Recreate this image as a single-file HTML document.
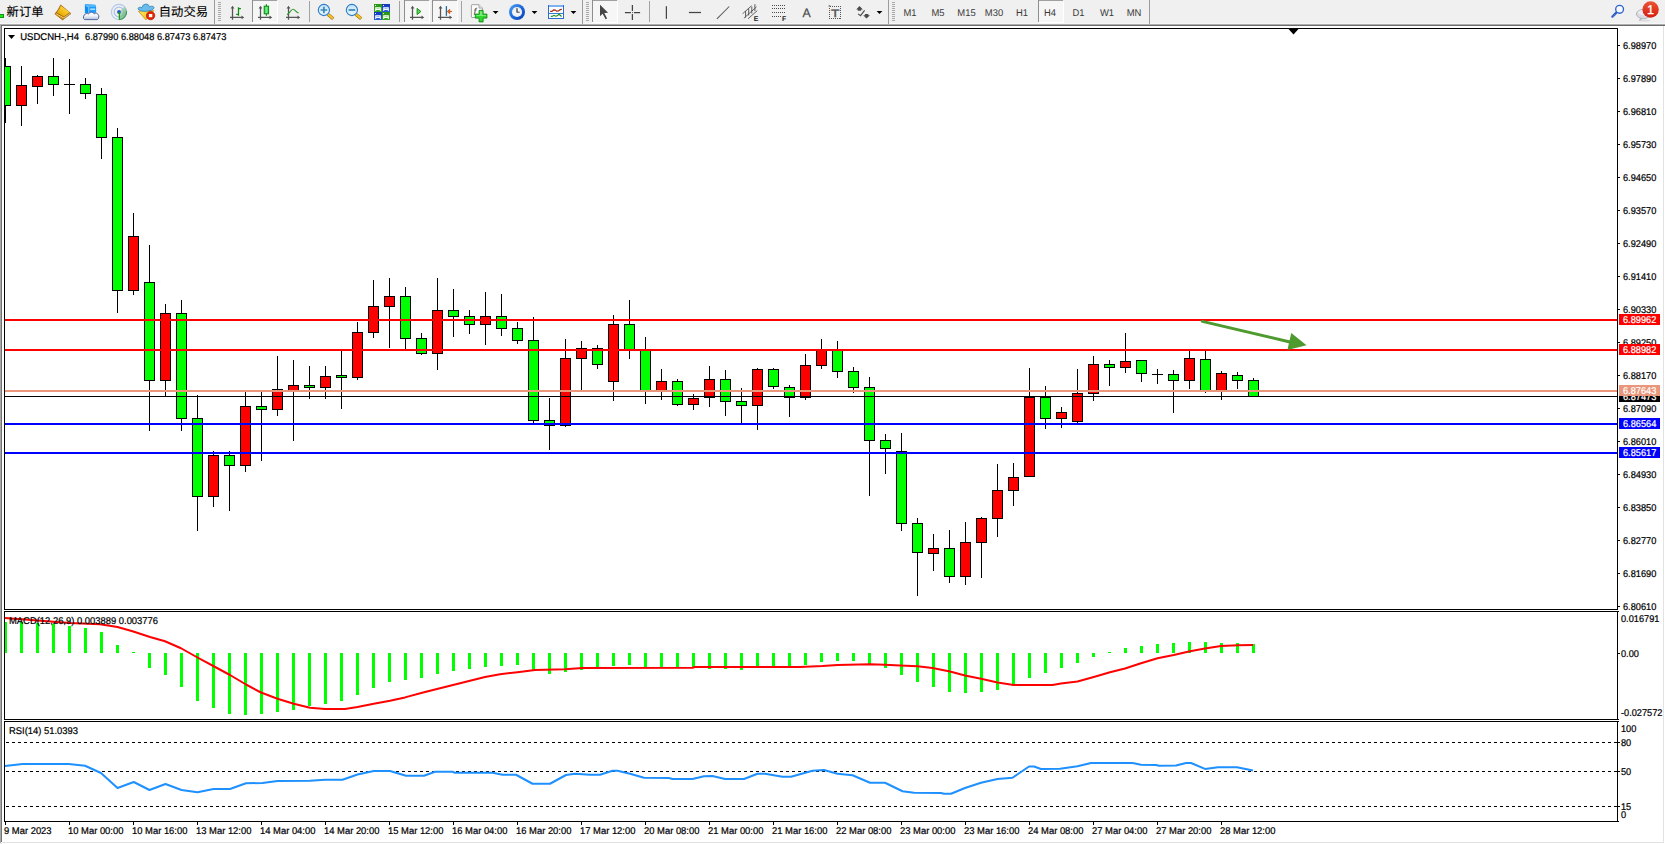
<!DOCTYPE html>
<html lang="zh-CN"><head><meta charset="utf-8"><title>USDCNH-,H4</title>
<style>
html,body{margin:0;padding:0;background:#fff;overflow:hidden}
body{width:1665px;height:844px;position:relative;font-family:"Liberation Sans", "Noto Sans CJK SC", sans-serif}
svg{position:absolute;left:0;top:0;display:block}
text{font-family:"Liberation Sans", "Noto Sans CJK SC", sans-serif;font-size:9.8px;fill:#000;stroke:#000;stroke-width:.22px;text-rendering:geometricPrecision}
.cn{font-size:12.3px;stroke-width:.12px}
.tf{fill:#3a3a3a;stroke:none}
.w{fill:#fff;stroke:#fff}
</style></head><body>
<svg width="1665" height="844" viewBox="0 0 1665 844">
<rect x="0" y="0" width="1665" height="844" fill="#fff"/>
<rect x="0" y="0" width="1665" height="24" fill="#f0f0f0"/>
<rect x="0" y="23" width="1665" height="1" fill="#f7f7f7"/>
<rect x="0" y="24" width="1665" height="1" fill="#adadad"/>
<rect x="0" y="25" width="1665" height="1" fill="#6c6c6c"/>
<rect x="0" y="25" width="1" height="818" fill="#a8a8a8"/>
<rect x="1" y="26" width="1" height="816" fill="#727272"/>
<rect x="1663" y="26" width="1" height="817" fill="#e2e2e2"/>
<rect x="2" y="842" width="1662" height="1" fill="#e2e2e2"/>
<rect x="0" y="843" width="2" height="1" fill="#e8e8e8"/>
<g shape-rendering="crispEdges">
<rect x="4" y="28" width="1614" height="1" fill="#000"/>
<rect x="4" y="28" width="1" height="582" fill="#000"/>
<rect x="1617" y="28" width="1" height="582" fill="#000"/>
<rect x="4" y="609" width="1614" height="1" fill="#000"/>
<rect x="4" y="611" width="1614" height="1" fill="#000"/>
<rect x="4" y="611" width="1" height="109" fill="#000"/>
<rect x="1617" y="611" width="1" height="109" fill="#000"/>
<rect x="4" y="719" width="1614" height="1" fill="#000"/>
<rect x="4" y="721" width="1614" height="1" fill="#000"/>
<rect x="4" y="721" width="1" height="101" fill="#000"/>
<rect x="1617" y="721" width="1" height="101" fill="#000"/>
<rect x="4" y="821" width="1614" height="1" fill="#000"/>
<clipPath id="cm"><rect x="5" y="29" width="1612" height="580"/></clipPath>
<clipPath id="ci"><rect x="5" y="612" width="1612" height="107"/></clipPath>
<g clip-path="url(#cm)">
<rect x="5" y="58" width="1" height="65" fill="#000"/>
<rect x="0" y="66" width="11" height="40" fill="#000"/>
<rect x="1" y="67" width="9" height="38" fill="#00ff00"/>
<rect x="21" y="66" width="1" height="60" fill="#000"/>
<rect x="16" y="85" width="11" height="21" fill="#000"/>
<rect x="17" y="86" width="9" height="19" fill="#ff0000"/>
<rect x="37" y="75" width="1" height="29" fill="#000"/>
<rect x="32" y="76" width="11" height="11" fill="#000"/>
<rect x="33" y="77" width="9" height="9" fill="#ff0000"/>
<rect x="53" y="58" width="1" height="38" fill="#000"/>
<rect x="48" y="76" width="11" height="9" fill="#000"/>
<rect x="49" y="77" width="9" height="7" fill="#00ff00"/>
<rect x="69" y="59" width="1" height="55" fill="#000"/>
<rect x="64" y="84" width="11" height="1" fill="#000"/>
<rect x="85" y="78" width="1" height="21" fill="#000"/>
<rect x="80" y="84" width="11" height="10" fill="#000"/>
<rect x="81" y="85" width="9" height="8" fill="#00ff00"/>
<rect x="101" y="88" width="1" height="71" fill="#000"/>
<rect x="96" y="94" width="11" height="44" fill="#000"/>
<rect x="97" y="95" width="9" height="42" fill="#00ff00"/>
<rect x="117" y="128" width="1" height="185" fill="#000"/>
<rect x="112" y="137" width="11" height="154" fill="#000"/>
<rect x="113" y="138" width="9" height="152" fill="#00ff00"/>
<rect x="133" y="213" width="1" height="82" fill="#000"/>
<rect x="128" y="236" width="11" height="55" fill="#000"/>
<rect x="129" y="237" width="9" height="53" fill="#ff0000"/>
<rect x="149" y="245" width="1" height="186" fill="#000"/>
<rect x="144" y="282" width="11" height="99" fill="#000"/>
<rect x="145" y="283" width="9" height="97" fill="#00ff00"/>
<rect x="165" y="304" width="1" height="92" fill="#000"/>
<rect x="160" y="313" width="11" height="68" fill="#000"/>
<rect x="161" y="314" width="9" height="66" fill="#ff0000"/>
<rect x="181" y="300" width="1" height="131" fill="#000"/>
<rect x="176" y="313" width="11" height="106" fill="#000"/>
<rect x="177" y="314" width="9" height="104" fill="#00ff00"/>
<rect x="197" y="395" width="1" height="136" fill="#000"/>
<rect x="192" y="418" width="11" height="79" fill="#000"/>
<rect x="193" y="419" width="9" height="77" fill="#00ff00"/>
<rect x="213" y="451" width="1" height="56" fill="#000"/>
<rect x="208" y="455" width="11" height="42" fill="#000"/>
<rect x="209" y="456" width="9" height="40" fill="#ff0000"/>
<rect x="229" y="451" width="1" height="60" fill="#000"/>
<rect x="224" y="455" width="11" height="11" fill="#000"/>
<rect x="225" y="456" width="9" height="9" fill="#00ff00"/>
<rect x="245" y="392" width="1" height="80" fill="#000"/>
<rect x="240" y="406" width="11" height="60" fill="#000"/>
<rect x="241" y="407" width="9" height="58" fill="#ff0000"/>
<rect x="261" y="392" width="1" height="69" fill="#000"/>
<rect x="256" y="406" width="11" height="4" fill="#000"/>
<rect x="257" y="407" width="9" height="2" fill="#00ff00"/>
<rect x="277" y="356" width="1" height="60" fill="#000"/>
<rect x="272" y="389" width="11" height="21" fill="#000"/>
<rect x="273" y="390" width="9" height="19" fill="#ff0000"/>
<rect x="293" y="360" width="1" height="81" fill="#000"/>
<rect x="288" y="385" width="11" height="6" fill="#000"/>
<rect x="289" y="386" width="9" height="4" fill="#ff0000"/>
<rect x="309" y="366" width="1" height="33" fill="#000"/>
<rect x="304" y="385" width="11" height="3" fill="#000"/>
<rect x="305" y="386" width="9" height="1" fill="#00ff00"/>
<rect x="325" y="366" width="1" height="33" fill="#000"/>
<rect x="320" y="376" width="11" height="12" fill="#000"/>
<rect x="321" y="377" width="9" height="10" fill="#ff0000"/>
<rect x="341" y="351" width="1" height="58" fill="#000"/>
<rect x="336" y="375" width="11" height="3" fill="#000"/>
<rect x="337" y="376" width="9" height="1" fill="#00ff00"/>
<rect x="357" y="322" width="1" height="58" fill="#000"/>
<rect x="352" y="332" width="11" height="46" fill="#000"/>
<rect x="353" y="333" width="9" height="44" fill="#ff0000"/>
<rect x="373" y="280" width="1" height="58" fill="#000"/>
<rect x="368" y="306" width="11" height="27" fill="#000"/>
<rect x="369" y="307" width="9" height="25" fill="#ff0000"/>
<rect x="389" y="278" width="1" height="70" fill="#000"/>
<rect x="384" y="296" width="11" height="11" fill="#000"/>
<rect x="385" y="297" width="9" height="9" fill="#ff0000"/>
<rect x="405" y="287" width="1" height="62" fill="#000"/>
<rect x="400" y="296" width="11" height="43" fill="#000"/>
<rect x="401" y="297" width="9" height="41" fill="#00ff00"/>
<rect x="421" y="333" width="1" height="22" fill="#000"/>
<rect x="416" y="338" width="11" height="16" fill="#000"/>
<rect x="417" y="339" width="9" height="14" fill="#00ff00"/>
<rect x="437" y="278" width="1" height="92" fill="#000"/>
<rect x="432" y="310" width="11" height="44" fill="#000"/>
<rect x="433" y="311" width="9" height="42" fill="#ff0000"/>
<rect x="453" y="289" width="1" height="48" fill="#000"/>
<rect x="448" y="310" width="11" height="7" fill="#000"/>
<rect x="449" y="311" width="9" height="5" fill="#00ff00"/>
<rect x="469" y="310" width="1" height="24" fill="#000"/>
<rect x="464" y="316" width="11" height="9" fill="#000"/>
<rect x="465" y="317" width="9" height="7" fill="#00ff00"/>
<rect x="485" y="292" width="1" height="53" fill="#000"/>
<rect x="480" y="316" width="11" height="9" fill="#000"/>
<rect x="481" y="317" width="9" height="7" fill="#ff0000"/>
<rect x="501" y="294" width="1" height="42" fill="#000"/>
<rect x="496" y="316" width="11" height="13" fill="#000"/>
<rect x="497" y="317" width="9" height="11" fill="#00ff00"/>
<rect x="517" y="322" width="1" height="22" fill="#000"/>
<rect x="512" y="328" width="11" height="13" fill="#000"/>
<rect x="513" y="329" width="9" height="11" fill="#00ff00"/>
<rect x="533" y="317" width="1" height="106" fill="#000"/>
<rect x="528" y="340" width="11" height="81" fill="#000"/>
<rect x="529" y="341" width="9" height="79" fill="#00ff00"/>
<rect x="549" y="398" width="1" height="52" fill="#000"/>
<rect x="544" y="420" width="11" height="6" fill="#000"/>
<rect x="545" y="421" width="9" height="4" fill="#00ff00"/>
<rect x="565" y="339" width="1" height="88" fill="#000"/>
<rect x="560" y="358" width="11" height="68" fill="#000"/>
<rect x="561" y="359" width="9" height="66" fill="#ff0000"/>
<rect x="581" y="341" width="1" height="49" fill="#000"/>
<rect x="576" y="348" width="11" height="11" fill="#000"/>
<rect x="577" y="349" width="9" height="9" fill="#ff0000"/>
<rect x="597" y="345" width="1" height="24" fill="#000"/>
<rect x="592" y="348" width="11" height="17" fill="#000"/>
<rect x="593" y="349" width="9" height="15" fill="#00ff00"/>
<rect x="613" y="315" width="1" height="86" fill="#000"/>
<rect x="608" y="324" width="11" height="58" fill="#000"/>
<rect x="609" y="325" width="9" height="56" fill="#ff0000"/>
<rect x="629" y="300" width="1" height="59" fill="#000"/>
<rect x="624" y="324" width="11" height="26" fill="#000"/>
<rect x="625" y="325" width="9" height="24" fill="#00ff00"/>
<rect x="645" y="337" width="1" height="67" fill="#000"/>
<rect x="640" y="350" width="11" height="41" fill="#000"/>
<rect x="641" y="351" width="9" height="39" fill="#00ff00"/>
<rect x="661" y="369" width="1" height="31" fill="#000"/>
<rect x="656" y="381" width="11" height="10" fill="#000"/>
<rect x="657" y="382" width="9" height="8" fill="#ff0000"/>
<rect x="677" y="379" width="1" height="27" fill="#000"/>
<rect x="672" y="381" width="11" height="24" fill="#000"/>
<rect x="673" y="382" width="9" height="22" fill="#00ff00"/>
<rect x="693" y="394" width="1" height="16" fill="#000"/>
<rect x="688" y="398" width="11" height="7" fill="#000"/>
<rect x="689" y="399" width="9" height="5" fill="#ff0000"/>
<rect x="709" y="366" width="1" height="41" fill="#000"/>
<rect x="704" y="379" width="11" height="19" fill="#000"/>
<rect x="705" y="380" width="9" height="17" fill="#ff0000"/>
<rect x="725" y="370" width="1" height="46" fill="#000"/>
<rect x="720" y="379" width="11" height="23" fill="#000"/>
<rect x="721" y="380" width="9" height="21" fill="#00ff00"/>
<rect x="741" y="388" width="1" height="35" fill="#000"/>
<rect x="736" y="401" width="11" height="5" fill="#000"/>
<rect x="737" y="402" width="9" height="3" fill="#00ff00"/>
<rect x="757" y="368" width="1" height="62" fill="#000"/>
<rect x="752" y="369" width="11" height="37" fill="#000"/>
<rect x="753" y="370" width="9" height="35" fill="#ff0000"/>
<rect x="773" y="368" width="1" height="21" fill="#000"/>
<rect x="768" y="369" width="11" height="18" fill="#000"/>
<rect x="769" y="370" width="9" height="16" fill="#00ff00"/>
<rect x="789" y="385" width="1" height="32" fill="#000"/>
<rect x="784" y="387" width="11" height="11" fill="#000"/>
<rect x="785" y="388" width="9" height="9" fill="#00ff00"/>
<rect x="805" y="354" width="1" height="46" fill="#000"/>
<rect x="800" y="365" width="11" height="33" fill="#000"/>
<rect x="801" y="366" width="9" height="31" fill="#ff0000"/>
<rect x="821" y="339" width="1" height="30" fill="#000"/>
<rect x="816" y="349" width="11" height="17" fill="#000"/>
<rect x="817" y="350" width="9" height="15" fill="#ff0000"/>
<rect x="837" y="341" width="1" height="37" fill="#000"/>
<rect x="832" y="350" width="11" height="22" fill="#000"/>
<rect x="833" y="351" width="9" height="20" fill="#00ff00"/>
<rect x="853" y="367" width="1" height="26" fill="#000"/>
<rect x="848" y="371" width="11" height="17" fill="#000"/>
<rect x="849" y="372" width="9" height="15" fill="#00ff00"/>
<rect x="869" y="377" width="1" height="119" fill="#000"/>
<rect x="864" y="387" width="11" height="54" fill="#000"/>
<rect x="865" y="388" width="9" height="52" fill="#00ff00"/>
<rect x="885" y="434" width="1" height="40" fill="#000"/>
<rect x="880" y="440" width="11" height="9" fill="#000"/>
<rect x="881" y="441" width="9" height="7" fill="#00ff00"/>
<rect x="901" y="433" width="1" height="98" fill="#000"/>
<rect x="896" y="451" width="11" height="73" fill="#000"/>
<rect x="897" y="452" width="9" height="71" fill="#00ff00"/>
<rect x="917" y="518" width="1" height="78" fill="#000"/>
<rect x="912" y="523" width="11" height="30" fill="#000"/>
<rect x="913" y="524" width="9" height="28" fill="#00ff00"/>
<rect x="933" y="534" width="1" height="37" fill="#000"/>
<rect x="928" y="548" width="11" height="6" fill="#000"/>
<rect x="929" y="549" width="9" height="4" fill="#ff0000"/>
<rect x="949" y="530" width="1" height="53" fill="#000"/>
<rect x="944" y="548" width="11" height="29" fill="#000"/>
<rect x="945" y="549" width="9" height="27" fill="#00ff00"/>
<rect x="965" y="522" width="1" height="63" fill="#000"/>
<rect x="960" y="542" width="11" height="35" fill="#000"/>
<rect x="961" y="543" width="9" height="33" fill="#ff0000"/>
<rect x="981" y="517" width="1" height="61" fill="#000"/>
<rect x="976" y="518" width="11" height="25" fill="#000"/>
<rect x="977" y="519" width="9" height="23" fill="#ff0000"/>
<rect x="997" y="464" width="1" height="73" fill="#000"/>
<rect x="992" y="490" width="11" height="29" fill="#000"/>
<rect x="993" y="491" width="9" height="27" fill="#ff0000"/>
<rect x="1013" y="463" width="1" height="43" fill="#000"/>
<rect x="1008" y="477" width="11" height="14" fill="#000"/>
<rect x="1009" y="478" width="9" height="12" fill="#ff0000"/>
<rect x="1029" y="368" width="1" height="109" fill="#000"/>
<rect x="1024" y="397" width="11" height="80" fill="#000"/>
<rect x="1025" y="398" width="9" height="78" fill="#ff0000"/>
<rect x="1045" y="386" width="1" height="43" fill="#000"/>
<rect x="1040" y="397" width="11" height="22" fill="#000"/>
<rect x="1041" y="398" width="9" height="20" fill="#00ff00"/>
<rect x="1061" y="407" width="1" height="21" fill="#000"/>
<rect x="1056" y="412" width="11" height="7" fill="#000"/>
<rect x="1057" y="413" width="9" height="5" fill="#ff0000"/>
<rect x="1077" y="369" width="1" height="54" fill="#000"/>
<rect x="1072" y="393" width="11" height="29" fill="#000"/>
<rect x="1073" y="394" width="9" height="27" fill="#ff0000"/>
<rect x="1093" y="356" width="1" height="45" fill="#000"/>
<rect x="1088" y="364" width="11" height="30" fill="#000"/>
<rect x="1089" y="365" width="9" height="28" fill="#ff0000"/>
<rect x="1109" y="360" width="1" height="26" fill="#000"/>
<rect x="1104" y="364" width="11" height="4" fill="#000"/>
<rect x="1105" y="365" width="9" height="2" fill="#00ff00"/>
<rect x="1125" y="333" width="1" height="40" fill="#000"/>
<rect x="1120" y="361" width="11" height="7" fill="#000"/>
<rect x="1121" y="362" width="9" height="5" fill="#ff0000"/>
<rect x="1141" y="360" width="1" height="22" fill="#000"/>
<rect x="1136" y="360" width="11" height="14" fill="#000"/>
<rect x="1137" y="361" width="9" height="12" fill="#00ff00"/>
<rect x="1157" y="369" width="1" height="15" fill="#000"/>
<rect x="1152" y="374" width="11" height="1" fill="#000"/>
<rect x="1173" y="370" width="1" height="43" fill="#000"/>
<rect x="1168" y="374" width="11" height="7" fill="#000"/>
<rect x="1169" y="375" width="9" height="5" fill="#00ff00"/>
<rect x="1189" y="351" width="1" height="38" fill="#000"/>
<rect x="1184" y="358" width="11" height="23" fill="#000"/>
<rect x="1185" y="359" width="9" height="21" fill="#ff0000"/>
<rect x="1205" y="351" width="1" height="42" fill="#000"/>
<rect x="1200" y="359" width="11" height="32" fill="#000"/>
<rect x="1201" y="360" width="9" height="30" fill="#00ff00"/>
<rect x="1221" y="371" width="1" height="29" fill="#000"/>
<rect x="1216" y="373" width="11" height="18" fill="#000"/>
<rect x="1217" y="374" width="9" height="16" fill="#ff0000"/>
<rect x="1237" y="372" width="1" height="17" fill="#000"/>
<rect x="1232" y="375" width="11" height="6" fill="#000"/>
<rect x="1233" y="376" width="9" height="4" fill="#00ff00"/>
<rect x="1253" y="378" width="1" height="19" fill="#000"/>
<rect x="1248" y="380" width="11" height="17" fill="#000"/>
<rect x="1249" y="381" width="9" height="15" fill="#00ff00"/>
</g>
<rect x="5" y="396" width="1612" height="1" fill="#000"/>
<rect x="5" y="319" width="1612" height="2" fill="#ff0000"/>
<rect x="5" y="349" width="1612" height="2" fill="#ff0000"/>
<rect x="5" y="390" width="1612" height="2" fill="#e9967a"/>
<rect x="5" y="423" width="1612" height="2" fill="#0000ff"/>
<rect x="5" y="452" width="1612" height="2" fill="#0000ff"/>
<g clip-path="url(#ci)">
<rect x="4" y="622" width="3" height="31" fill="#00ff00"/>
<rect x="20" y="622" width="3" height="31" fill="#00ff00"/>
<rect x="36" y="623" width="3" height="30" fill="#00ff00"/>
<rect x="52" y="624" width="3" height="29" fill="#00ff00"/>
<rect x="68" y="626" width="3" height="27" fill="#00ff00"/>
<rect x="84" y="628" width="3" height="25" fill="#00ff00"/>
<rect x="100" y="632" width="3" height="21" fill="#00ff00"/>
<rect x="116" y="645" width="3" height="8" fill="#00ff00"/>
<rect x="132" y="652" width="3" height="1" fill="#00ff00"/>
<rect x="148" y="653" width="3" height="15" fill="#00ff00"/>
<rect x="164" y="653" width="3" height="22" fill="#00ff00"/>
<rect x="180" y="653" width="3" height="34" fill="#00ff00"/>
<rect x="196" y="653" width="3" height="48" fill="#00ff00"/>
<rect x="212" y="653" width="3" height="55" fill="#00ff00"/>
<rect x="228" y="653" width="3" height="61" fill="#00ff00"/>
<rect x="244" y="653" width="3" height="62" fill="#00ff00"/>
<rect x="260" y="653" width="3" height="61" fill="#00ff00"/>
<rect x="276" y="653" width="3" height="59" fill="#00ff00"/>
<rect x="292" y="653" width="3" height="57" fill="#00ff00"/>
<rect x="308" y="653" width="3" height="53" fill="#00ff00"/>
<rect x="324" y="653" width="3" height="51" fill="#00ff00"/>
<rect x="340" y="653" width="3" height="48" fill="#00ff00"/>
<rect x="356" y="653" width="3" height="42" fill="#00ff00"/>
<rect x="372" y="653" width="3" height="35" fill="#00ff00"/>
<rect x="388" y="653" width="3" height="29" fill="#00ff00"/>
<rect x="404" y="653" width="3" height="27" fill="#00ff00"/>
<rect x="420" y="653" width="3" height="25" fill="#00ff00"/>
<rect x="436" y="653" width="3" height="21" fill="#00ff00"/>
<rect x="452" y="653" width="3" height="18" fill="#00ff00"/>
<rect x="468" y="653" width="3" height="16" fill="#00ff00"/>
<rect x="484" y="653" width="3" height="14" fill="#00ff00"/>
<rect x="500" y="653" width="3" height="13" fill="#00ff00"/>
<rect x="516" y="653" width="3" height="12" fill="#00ff00"/>
<rect x="532" y="653" width="3" height="17" fill="#00ff00"/>
<rect x="548" y="653" width="3" height="21" fill="#00ff00"/>
<rect x="564" y="653" width="3" height="19" fill="#00ff00"/>
<rect x="580" y="653" width="3" height="17" fill="#00ff00"/>
<rect x="596" y="653" width="3" height="15" fill="#00ff00"/>
<rect x="612" y="653" width="3" height="13" fill="#00ff00"/>
<rect x="628" y="653" width="3" height="12" fill="#00ff00"/>
<rect x="644" y="653" width="3" height="14" fill="#00ff00"/>
<rect x="660" y="653" width="3" height="15" fill="#00ff00"/>
<rect x="676" y="653" width="3" height="15" fill="#00ff00"/>
<rect x="692" y="653" width="3" height="15" fill="#00ff00"/>
<rect x="708" y="653" width="3" height="16" fill="#00ff00"/>
<rect x="724" y="653" width="3" height="16" fill="#00ff00"/>
<rect x="740" y="653" width="3" height="17" fill="#00ff00"/>
<rect x="756" y="653" width="3" height="14" fill="#00ff00"/>
<rect x="772" y="653" width="3" height="14" fill="#00ff00"/>
<rect x="788" y="653" width="3" height="13" fill="#00ff00"/>
<rect x="804" y="653" width="3" height="12" fill="#00ff00"/>
<rect x="820" y="653" width="3" height="9" fill="#00ff00"/>
<rect x="836" y="653" width="3" height="8" fill="#00ff00"/>
<rect x="852" y="653" width="3" height="8" fill="#00ff00"/>
<rect x="868" y="653" width="3" height="11" fill="#00ff00"/>
<rect x="884" y="653" width="3" height="15" fill="#00ff00"/>
<rect x="900" y="653" width="3" height="22" fill="#00ff00"/>
<rect x="916" y="653" width="3" height="29" fill="#00ff00"/>
<rect x="932" y="653" width="3" height="34" fill="#00ff00"/>
<rect x="948" y="653" width="3" height="39" fill="#00ff00"/>
<rect x="964" y="653" width="3" height="40" fill="#00ff00"/>
<rect x="980" y="653" width="3" height="39" fill="#00ff00"/>
<rect x="996" y="653" width="3" height="37" fill="#00ff00"/>
<rect x="1012" y="653" width="3" height="33" fill="#00ff00"/>
<rect x="1028" y="653" width="3" height="25" fill="#00ff00"/>
<rect x="1044" y="653" width="3" height="20" fill="#00ff00"/>
<rect x="1060" y="653" width="3" height="15" fill="#00ff00"/>
<rect x="1076" y="653" width="3" height="10" fill="#00ff00"/>
<rect x="1092" y="653" width="3" height="4" fill="#00ff00"/>
<rect x="1108" y="652" width="3" height="1" fill="#00ff00"/>
<rect x="1124" y="648" width="3" height="5" fill="#00ff00"/>
<rect x="1140" y="646" width="3" height="7" fill="#00ff00"/>
<rect x="1156" y="644" width="3" height="9" fill="#00ff00"/>
<rect x="1172" y="643" width="3" height="10" fill="#00ff00"/>
<rect x="1188" y="642" width="3" height="11" fill="#00ff00"/>
<rect x="1204" y="642" width="3" height="11" fill="#00ff00"/>
<rect x="1220" y="643" width="3" height="10" fill="#00ff00"/>
<rect x="1236" y="643" width="3" height="10" fill="#00ff00"/>
<rect x="1252" y="644" width="3" height="9" fill="#00ff00"/>
</g>
<line x1="6" y1="742.5" x2="1617" y2="742.5" stroke="#000" stroke-width="1" stroke-dasharray="3 3"/>
<line x1="6" y1="771.5" x2="1617" y2="771.5" stroke="#000" stroke-width="1" stroke-dasharray="3 3"/>
<line x1="6" y1="806.5" x2="1617" y2="806.5" stroke="#000" stroke-width="1" stroke-dasharray="3 3"/>
<rect x="1618" y="45" width="2" height="1" fill="#000"/>
<rect x="1618" y="78" width="2" height="1" fill="#000"/>
<rect x="1618" y="111" width="2" height="1" fill="#000"/>
<rect x="1618" y="144" width="2" height="1" fill="#000"/>
<rect x="1618" y="177" width="2" height="1" fill="#000"/>
<rect x="1618" y="210" width="2" height="1" fill="#000"/>
<rect x="1618" y="243" width="2" height="1" fill="#000"/>
<rect x="1618" y="276" width="2" height="1" fill="#000"/>
<rect x="1618" y="309" width="2" height="1" fill="#000"/>
<rect x="1618" y="342" width="2" height="1" fill="#000"/>
<rect x="1618" y="375" width="2" height="1" fill="#000"/>
<rect x="1618" y="408" width="2" height="1" fill="#000"/>
<rect x="1618" y="441" width="2" height="1" fill="#000"/>
<rect x="1618" y="474" width="2" height="1" fill="#000"/>
<rect x="1618" y="507" width="2" height="1" fill="#000"/>
<rect x="1618" y="540" width="2" height="1" fill="#000"/>
<rect x="1618" y="573" width="2" height="1" fill="#000"/>
<rect x="1618" y="606" width="2" height="1" fill="#000"/>
<rect x="1618" y="611" width="1" height="1" fill="#000"/>
<rect x="1618" y="653" width="2" height="1" fill="#000"/>
<rect x="1618" y="719" width="1" height="1" fill="#000"/>
<rect x="1618" y="721" width="1" height="1" fill="#000"/>
<rect x="1618" y="742" width="2" height="1" fill="#000"/>
<rect x="1618" y="771" width="2" height="1" fill="#000"/>
<rect x="1618" y="806" width="2" height="1" fill="#000"/>
<rect x="1618" y="821" width="1" height="1" fill="#000"/>
<rect x="5" y="822" width="1" height="3" fill="#000"/>
<rect x="69" y="822" width="1" height="3" fill="#000"/>
<rect x="133" y="822" width="1" height="3" fill="#000"/>
<rect x="197" y="822" width="1" height="3" fill="#000"/>
<rect x="261" y="822" width="1" height="3" fill="#000"/>
<rect x="325" y="822" width="1" height="3" fill="#000"/>
<rect x="389" y="822" width="1" height="3" fill="#000"/>
<rect x="453" y="822" width="1" height="3" fill="#000"/>
<rect x="517" y="822" width="1" height="3" fill="#000"/>
<rect x="581" y="822" width="1" height="3" fill="#000"/>
<rect x="645" y="822" width="1" height="3" fill="#000"/>
<rect x="709" y="822" width="1" height="3" fill="#000"/>
<rect x="773" y="822" width="1" height="3" fill="#000"/>
<rect x="837" y="822" width="1" height="3" fill="#000"/>
<rect x="901" y="822" width="1" height="3" fill="#000"/>
<rect x="965" y="822" width="1" height="3" fill="#000"/>
<rect x="1029" y="822" width="1" height="3" fill="#000"/>
<rect x="1093" y="822" width="1" height="3" fill="#000"/>
<rect x="1157" y="822" width="1" height="3" fill="#000"/>
<rect x="1221" y="822" width="1" height="3" fill="#000"/>
</g>
<g clip-path="url(#ci)">
<polyline fill="none" stroke="#ff0000" stroke-width="2" stroke-linejoin="round" points="5,618 37.5,620.5 70,623 100,624.25 117.5,627 132.5,631.25 150,637 165,641.25 181,648.25 197.5,657.5 213.75,666.25 230,675 246,684.5 261,692.5 277.5,698.75 293.75,703.75 310,707.75 325,709 345,709 357.5,707 373.75,703.75 390,700.75 405,697.4 425,692 450,685.75 475,679.5 485,677 500,674.25 517.5,672.25 535,670 565,669.25 582.5,668 692.5,667.75 695,667 800,667 822.5,666 837.5,665 870,664.25 885,664.75 900,665.5 917.5,666.25 932.5,668 950,671.5 965,675.5 981,678.75 997.5,682.5 1013.75,685 1052.5,685 1061,683.5 1077.5,681.5 1093.75,677 1110,672.25 1125,668.5 1141,663.25 1157.5,658.25 1173.75,655 1190,651.25 1205,648.5 1221,646 1238,645.2 1253,644.9"/>
</g>
<polyline fill="none" stroke="#1e90ff" stroke-width="2" stroke-linejoin="round" points="5,766 22.5,764 68.75,764 85,765.75 101,773 117.5,788 133.75,782 149.5,790 165.5,784 181.5,790 197.5,792.25 213.5,789 230,789 246,783.25 262.5,783 277.5,781 310,780.75 325,779.75 342.5,779.75 357.5,774.5 373.75,771 390,771 406,775.75 424,775.75 435,771.75 452.5,771.75 455,772.75 492.5,772.75 502.5,774.75 516,774.75 532.5,783.75 550,783.75 566,775 575,773.75 590,774.75 600,774.75 612.5,770.75 617.5,770.75 630,773.75 644,777.75 669,778 672.5,779 692.5,779 704,776.25 712.5,776 725,779 744,779 757.5,773.75 765,773.75 782.5,776.75 791,776.75 812.5,770.75 824,770 837.5,773.75 852.5,775.25 870,782.75 885,782.75 902.5,791.25 914,792.75 941,793 944,793.75 951,793.75 965,788 981,782.75 997.5,779 1012.5,777.75 1029,766.5 1034,766.5 1041,769 1060,768.75 1077.5,766.25 1091,763 1132.5,763 1141,764.75 1156,765 1159,765.75 1176,765.5 1186,763 1191,763 1205,768.9 1218,767.2 1237,767.2 1253,770.4"/>
<text transform="translate(9,624) scale(0.96,1)">MACD(12,26,9) 0.003889 0.003776</text>
<text transform="translate(9,734) scale(0.96,1)">RSI(14) 51.0393</text>
<line x1="1202.3" y1="321.4" x2="1292" y2="342.5" stroke="#4f9a2e" stroke-width="3" stroke-linecap="round"/>
<polygon points="1306.5,345.3 1291.3,333 1287.4,350" fill="#4f9a2e"/>
<polygon points="1288.5,29 1298.5,29 1293.5,34.4" fill="#000"/>
<text transform="translate(1623,49.0) scale(0.94,1)">6.98970</text>
<text transform="translate(1623,82.0) scale(0.94,1)">6.97890</text>
<text transform="translate(1623,115.0) scale(0.94,1)">6.96810</text>
<text transform="translate(1623,148.0) scale(0.94,1)">6.95730</text>
<text transform="translate(1623,181.0) scale(0.94,1)">6.94650</text>
<text transform="translate(1623,214.0) scale(0.94,1)">6.93570</text>
<text transform="translate(1623,247.0) scale(0.94,1)">6.92490</text>
<text transform="translate(1623,280.0) scale(0.94,1)">6.91410</text>
<text transform="translate(1623,313.0) scale(0.94,1)">6.90330</text>
<text transform="translate(1623,346.0) scale(0.94,1)">6.89250</text>
<text transform="translate(1623,379.0) scale(0.94,1)">6.88170</text>
<text transform="translate(1623,412.0) scale(0.94,1)">6.87090</text>
<text transform="translate(1623,445.0) scale(0.94,1)">6.86010</text>
<text transform="translate(1623,478.0) scale(0.94,1)">6.84930</text>
<text transform="translate(1623,511.0) scale(0.94,1)">6.83850</text>
<text transform="translate(1623,544.0) scale(0.94,1)">6.82770</text>
<text transform="translate(1623,577.0) scale(0.94,1)">6.81690</text>
<text transform="translate(1623,610.0) scale(0.94,1)">6.80610</text>
<rect x="1619" y="314" width="41" height="11" fill="#ff0000" shape-rendering="crispEdges"/>
<text transform="translate(1623,323.1) scale(0.94,1)" class="w">6.89962</text>
<rect x="1619" y="344" width="41" height="11" fill="#ff0000" shape-rendering="crispEdges"/>
<text transform="translate(1623,353.1) scale(0.94,1)" class="w">6.88982</text>
<rect x="1619" y="391" width="41" height="11" fill="#000000" shape-rendering="crispEdges"/>
<text transform="translate(1623,400.1) scale(0.94,1)" class="w">6.87473</text>
<rect x="1619" y="385" width="41" height="11" fill="#e9967a" shape-rendering="crispEdges"/>
<text transform="translate(1623,394.1) scale(0.94,1)" class="w">6.87643</text>
<rect x="1619" y="418" width="41" height="11" fill="#0000ff" shape-rendering="crispEdges"/>
<text transform="translate(1623,427.1) scale(0.94,1)" class="w">6.86564</text>
<rect x="1619" y="447" width="41" height="11" fill="#0000ff" shape-rendering="crispEdges"/>
<text transform="translate(1623,456.1) scale(0.94,1)" class="w">6.85617</text>
<text transform="translate(1621,622.4) scale(0.94,1)">0.016791</text>
<text transform="translate(1621,657.3) scale(0.94,1)">0.00</text>
<text transform="translate(1621,716.2) scale(0.94,1)">-0.027572</text>
<text transform="translate(1621,732.2) scale(0.94,1)">100</text>
<text transform="translate(1621,746.2) scale(0.94,1)">80</text>
<text transform="translate(1621,775.3) scale(0.94,1)">50</text>
<text transform="translate(1621,810.2) scale(0.94,1)">15</text>
<text transform="translate(1621,817.7) scale(0.94,1)">0</text>
<polygon points="8,35 15,35 11.5,39" fill="#000"/>
<text transform="translate(20.2,40) scale(0.972,1)">USDCNH-,H4</text>
<text transform="translate(85,40) scale(0.943,1)">6.87990 6.88048 6.87473 6.87473</text>
<text transform="translate(4,834) scale(0.96,1)">9 Mar 2023</text>
<text transform="translate(68,834) scale(0.96,1)">10 Mar 00:00</text>
<text transform="translate(132,834) scale(0.96,1)">10 Mar 16:00</text>
<text transform="translate(196,834) scale(0.96,1)">13 Mar 12:00</text>
<text transform="translate(260,834) scale(0.96,1)">14 Mar 04:00</text>
<text transform="translate(324,834) scale(0.96,1)">14 Mar 20:00</text>
<text transform="translate(388,834) scale(0.96,1)">15 Mar 12:00</text>
<text transform="translate(452,834) scale(0.96,1)">16 Mar 04:00</text>
<text transform="translate(516,834) scale(0.96,1)">16 Mar 20:00</text>
<text transform="translate(580,834) scale(0.96,1)">17 Mar 12:00</text>
<text transform="translate(644,834) scale(0.96,1)">20 Mar 08:00</text>
<text transform="translate(708,834) scale(0.96,1)">21 Mar 00:00</text>
<text transform="translate(772,834) scale(0.96,1)">21 Mar 16:00</text>
<text transform="translate(836,834) scale(0.96,1)">22 Mar 08:00</text>
<text transform="translate(900,834) scale(0.96,1)">23 Mar 00:00</text>
<text transform="translate(964,834) scale(0.96,1)">23 Mar 16:00</text>
<text transform="translate(1028,834) scale(0.96,1)">24 Mar 08:00</text>
<text transform="translate(1092,834) scale(0.96,1)">27 Mar 04:00</text>
<text transform="translate(1156,834) scale(0.96,1)">27 Mar 20:00</text>
<text transform="translate(1220,834) scale(0.96,1)">28 Mar 12:00</text>
<defs><linearGradient id="gGold" x1="1" y1="0" x2="0.2" y2="1"><stop offset="0" stop-color="#ffec78"/><stop offset="0.55" stop-color="#f3c21a"/><stop offset="1" stop-color="#e2a100"/></linearGradient><linearGradient id="gCloud" x1="0" y1="0" x2="0" y2="1"><stop offset="0" stop-color="#ffffff"/><stop offset="0.5" stop-color="#eef2f8"/><stop offset="1" stop-color="#b4c1da"/></linearGradient><linearGradient id="gYel" x1="0" y1="0" x2="1" y2="1"><stop offset="0" stop-color="#ffe85a"/><stop offset="1" stop-color="#f0b41a"/></linearGradient><linearGradient id="gRed" x1="0" y1="0" x2="0" y2="1"><stop offset="0" stop-color="#ea5636"/><stop offset="1" stop-color="#d81c0c"/></linearGradient><linearGradient id="gClock" x1="0" y1="0" x2="1" y2="1"><stop offset="0" stop-color="#55a6f4"/><stop offset="0.5" stop-color="#1a68dc"/><stop offset="1" stop-color="#0a3cae"/></linearGradient><linearGradient id="gCandle" x1="0" y1="0" x2="1" y2="0"><stop offset="0" stop-color="#28cc48"/><stop offset="0.5" stop-color="#78f090"/><stop offset="1" stop-color="#20c840"/></linearGradient><linearGradient id="gLens" x1="0" y1="0" x2="0" y2="1"><stop offset="0" stop-color="#c4e4fa"/><stop offset="1" stop-color="#e6f6ff"/></linearGradient><linearGradient id="gTG" x1="0" y1="0" x2="0" y2="1"><stop offset="0" stop-color="#2a9418"/><stop offset="1" stop-color="#3aa828"/></linearGradient><linearGradient id="gTB" x1="0" y1="0" x2="0" y2="1"><stop offset="0" stop-color="#1038b8"/><stop offset="1" stop-color="#2a60d8"/></linearGradient><linearGradient id="gSig" x1="0" y1="0" x2="1" y2="1"><stop offset="0" stop-color="#cfe6cf" stop-opacity=".55"/><stop offset="1" stop-color="#2f9a45" stop-opacity=".9"/></linearGradient></defs>
<rect x="0" y="14" width="4" height="4" fill="#0a9a0a"/><rect x="0" y="15" width="3" height="2" fill="#22e022"/>
<text transform="translate(6.6,15.8) scale(1,1)" class="cn">新订单</text>
<path d="M60.7,4.9 L70.9,13.6 L62.7,19.9 L54.9,13.9 Q58.6,9.8 60.7,4.9 Z" fill="#a6640a" stroke="#a6640a" stroke-width=".7" stroke-linejoin="round"/><path d="M69.7,12.9 L70.2,13.7 L63.2,19.2 L64.1,17.1 Z" fill="#d6bd70"/><path d="M56,13.3 L63.9,17.5 L63.5,18.2 L55.8,13.9 Z" fill="#fbe78c"/><path d="M55.8,13.9 L63.5,18.2 L63,19.1 L55.6,14.5 Z" fill="#e6a61a"/><path d="M60.9,5.7 L69.5,12.3 L63.9,16.6 L56.8,12.5 Q59.7,9.3 60.9,5.7 Z" fill="url(#gGold)"/>
<path d="M84.9,4.3 L95.2,4.8 L96.1,7 L96.1,12.6 L84.9,13.2 Z" fill="#0a84ea"/><path d="M85.2,4.5 L95,4.9 L95.8,6.9 L88.8,7.2 Z" fill="#4cb8ff"/><path d="M85,5.3 L88.6,7.4 L88.6,13 L85,13 Z" fill="#0a8ef2"/><path d="M88.9,7.3 L96,7 L96,12.5 L88.9,12.9 Z" fill="#229eff"/><path d="M85.4,5.3 L88.7,7.3 V12.9" stroke="#d6efff" stroke-width=".6" fill="none"/><rect x="90.2" y="8.6" width="4.9" height="1.1" fill="#e6f5ff"/><path d="M84.6,19.6 Q83.2,18.6 83.4,16.9 Q83.6,14.9 85.2,14.3 Q86.2,13.2 87.4,13.5 Q88,13.6 88.5,14.1 Q88.8,12.9 89.8,12.5 Q91.4,11.8 92.9,12.5 Q93.9,13 94.3,13.9 Q95.2,12.9 96.4,13.2 Q97.7,13.6 98.1,14.6 Q99,15.6 98.8,17 Q98.7,18.8 97.4,19.6 Z" fill="url(#gCloud)" stroke="#41599a" stroke-width=".9" stroke-linejoin="round"/>
<g fill="none"><circle cx="119" cy="12" r="7.6" stroke="#b4c8ee" stroke-width="1.1"/><circle cx="119" cy="12" r="4.8" stroke="#a6bfec" stroke-width="1.2"/><path d="M119,12 L119,19.8 A7.8,7.8 0 0 0 124.4,6.4 Z" fill="url(#gSig)"/><path d="M119.6,19.6 A7.7,7.7 0 0 0 126.6,11" stroke="#2f8a4a" stroke-width="1" opacity=".8"/><circle cx="119" cy="12" r="1.9" fill="#2252d2"/><path d="M119.4,12 V19.7" stroke="#16a216" stroke-width="1.3"/></g>
<path d="M138.4,11.2 L153.8,10.6 L146,19.9 Z" fill="url(#gYel)" stroke="#c8920f" stroke-width=".8" stroke-linejoin="round"/><path d="M138,8.9 Q138.1,7.2 140,7.2 L142,7.7 Q142.6,4 146,4 Q148.8,4 149.3,6.7 Q151.5,5.8 153.2,6.4 Q154.5,7.1 153.8,8.5 Q152.4,10.8 146,11.3 Q139.4,11.4 138,8.9 Z" fill="#6bbcec" stroke="#2c88ba" stroke-width=".8"/><circle cx="150.6" cy="15.6" r="4.2" fill="#e22404" stroke="#b01a08" stroke-width=".7"/><rect x="148.9" y="14" width="3.4" height="3.2" fill="#fff"/>
<text transform="translate(158.8,15.8) scale(1,1)" class="cn">自动交易</text>
<rect x="214" y="0" width="1" height="24" fill="#9c9c9c" shape-rendering="crispEdges"/>
<rect x="218" y="2" width="3" height="1" fill="#a9a9a9" shape-rendering="crispEdges"/>
<rect x="218" y="4" width="3" height="1" fill="#a9a9a9" shape-rendering="crispEdges"/>
<rect x="218" y="6" width="3" height="1" fill="#a9a9a9" shape-rendering="crispEdges"/>
<rect x="218" y="8" width="3" height="1" fill="#a9a9a9" shape-rendering="crispEdges"/>
<rect x="218" y="10" width="3" height="1" fill="#a9a9a9" shape-rendering="crispEdges"/>
<rect x="218" y="12" width="3" height="1" fill="#a9a9a9" shape-rendering="crispEdges"/>
<rect x="218" y="14" width="3" height="1" fill="#a9a9a9" shape-rendering="crispEdges"/>
<rect x="218" y="16" width="3" height="1" fill="#a9a9a9" shape-rendering="crispEdges"/>
<rect x="218" y="18" width="3" height="1" fill="#a9a9a9" shape-rendering="crispEdges"/>
<rect x="218" y="20" width="3" height="1" fill="#a9a9a9" shape-rendering="crispEdges"/>
<path d="M232.5,7 V19.7 M230,17.4 H242.6" stroke="#555" stroke-width="1.25" fill="none"/>
<path d="M232.5,5.8 l-1.9,2.7 h3.8 z M244.2,17.4 l-2.7,-1.9 v3.8 z" fill="#555"/>
<path d="M238.5,7.3 V15.8 M238.5,8.7 H240.9 M238.5,14.4 H236.2" stroke="#0f8c0f" stroke-width="1.25" fill="none"/>
<g shape-rendering="crispEdges"><rect x="252" y="0" width="25" height="22" fill="#f6f6f6"/><rect x="252" y="0" width="25" height="1" fill="#a0a0a0"/><rect x="252" y="0" width="1" height="22" fill="#8e8e8e"/><rect x="277" y="1" width="1" height="22" fill="#fff"/><rect x="252" y="22" width="26" height="1" fill="#fff"/></g>
<path d="M260.5,7 V19.7 M258,17.4 H270.6" stroke="#555" stroke-width="1.25" fill="none"/>
<path d="M260.5,5.8 l-1.9,2.7 h3.8 z M272.2,17.4 l-2.7,-1.9 v3.8 z" fill="#555"/>
<path d="M266.4,4.2 V15.8" stroke="#0f8c0f" stroke-width="1.2"/>
<rect x="264.2" y="6.2" width="4.4" height="7.6" fill="url(#gCandle)" stroke="#0f8c0f" stroke-width="1"/>
<path d="M288.5,7 V19.7 M286,17.4 H298.6" stroke="#555" stroke-width="1.25" fill="none"/>
<path d="M288.5,5.8 l-1.9,2.7 h3.8 z M300.2,17.4 l-2.7,-1.9 v3.8 z" fill="#555"/>
<path d="M287,14.7 C289.5,13.6 291,9.2 293.2,9.3 C295,9.4 296,12.4 298.5,12.9" stroke="#2c9a2c" stroke-width="1.15" fill="none"/>
<rect x="309" y="1" width="1" height="21" fill="#a2a2a2" shape-rendering="crispEdges"/>
<line x1="327.8" y1="14.2" x2="333.2" y2="18.7" stroke="#a87408" stroke-width="3.4" stroke-linecap="butt"/>
<line x1="327.9" y1="14.3" x2="332.9" y2="18.4" stroke="#efc52a" stroke-width="2.1" stroke-linecap="butt"/>
<circle cx="323.9" cy="10" r="5.6" fill="url(#gLens)" stroke="#2c7aca" stroke-width="1.1"/>
<path d="M320.6,10 h6.6 M323.9,6.7 v6.6" stroke="#3c86b4" stroke-width="1.7" fill="none"/>
<line x1="355.8" y1="14.2" x2="361.2" y2="18.7" stroke="#a87408" stroke-width="3.4" stroke-linecap="butt"/>
<line x1="355.9" y1="14.3" x2="360.9" y2="18.4" stroke="#efc52a" stroke-width="2.1" stroke-linecap="butt"/>
<circle cx="351.9" cy="10" r="5.6" fill="url(#gLens)" stroke="#2c7aca" stroke-width="1.1"/>
<path d="M348.6,10 h6.6" stroke="#3c86b4" stroke-width="1.7" fill="none"/>
<rect x="374" y="4" width="8" height="8" fill="url(#gTG)"/>
<rect x="375" y="5" width="1" height="1" fill="#e8f0ff"/>
<path d="M375.2,7.2 h5.6 v3.7 h-1 v-1 h-3.6 v1 h-1 z" fill="#fff"/>
<rect x="376.4" y="8.2" width="3.2" height=".9" fill="#9cd890"/>
<rect x="382" y="4" width="8" height="8" fill="url(#gTB)"/>
<rect x="383" y="5" width="1" height="1" fill="#e8f0ff"/>
<path d="M383.2,7.2 h5.6 v3.7 h-1 v-1 h-3.6 v1 h-1 z" fill="#fff"/>
<rect x="384.4" y="8.2" width="3.2" height=".9" fill="#8ea8ee"/>
<rect x="374" y="12" width="8" height="8" fill="url(#gTB)"/>
<rect x="375" y="13" width="1" height="1" fill="#e8f0ff"/>
<path d="M375.2,15.2 h5.6 v3.7 h-1 v-1 h-3.6 v1 h-1 z" fill="#fff"/>
<rect x="376.4" y="16.2" width="3.2" height=".9" fill="#8ea8ee"/>
<rect x="382" y="12" width="8" height="8" fill="url(#gTG)"/>
<rect x="383" y="13" width="1" height="1" fill="#e8f0ff"/>
<path d="M383.2,15.2 h5.6 v3.7 h-1 v-1 h-3.6 v1 h-1 z" fill="#fff"/>
<rect x="384.4" y="16.2" width="3.2" height=".9" fill="#9cd890"/>
<rect x="399" y="1" width="1" height="21" fill="#a2a2a2" shape-rendering="crispEdges"/>
<g shape-rendering="crispEdges"><rect x="404" y="0" width="25" height="22" fill="#f6f6f6"/><rect x="404" y="0" width="25" height="1" fill="#a0a0a0"/><rect x="404" y="0" width="1" height="22" fill="#8e8e8e"/><rect x="429" y="1" width="1" height="22" fill="#fff"/><rect x="404" y="22" width="26" height="1" fill="#fff"/></g>
<path d="M412.5,7 V19.7 M410,17.4 H422.6" stroke="#555" stroke-width="1.25" fill="none"/>
<path d="M412.5,5.8 l-1.9,2.7 h3.8 z M424.2,17.4 l-2.7,-1.9 v3.8 z" fill="#555"/>
<polygon points="417.1,8.4 417.1,14.6 420.9,11.5" fill="#5cd85c" stroke="#149414" stroke-width="1" stroke-linejoin="round"/>
<g shape-rendering="crispEdges"><rect x="432" y="0" width="25" height="22" fill="#f6f6f6"/><rect x="432" y="0" width="25" height="1" fill="#a0a0a0"/><rect x="432" y="0" width="1" height="22" fill="#8e8e8e"/><rect x="457" y="1" width="1" height="22" fill="#fff"/><rect x="432" y="22" width="26" height="1" fill="#fff"/></g>
<path d="M440.5,7 V19.7 M438,17.4 H450.6" stroke="#555" stroke-width="1.25" fill="none"/>
<path d="M440.5,5.8 l-1.9,2.7 h3.8 z M452.2,17.4 l-2.7,-1.9 v3.8 z" fill="#555"/>
<path d="M446.4,6.1 V15.8" stroke="#1c6c9c" stroke-width="1.3"/>
<path d="M447.2,11.5 L449.8,9.2 L449.4,11 L451.9,11.5 L449.4,12 L449.8,13.8 Z" fill="#e86a10" stroke="#c83800" stroke-width=".6"/>
<rect x="461" y="1" width="1" height="21" fill="#a2a2a2" shape-rendering="crispEdges"/>
<path d="M472,4.7 h7 l3.4,3.4 v9.4 h-10.4 q-.6,0 -.6,-.6 v-11.6 q0,-.6 .6,-.6 z" fill="#fcfcfc" stroke="#9a9a9a" stroke-width=".9"/><path d="M479,4.7 v3.4 h3.4" fill="#e4e4e4" stroke="#9a9a9a" stroke-width=".8"/><text x="473.6" y="14.6" style="font-size:10px;font-style:italic;stroke:none;fill:#4a4436">f</text><path d="M479.1,10.4 h4 v3.7 h3.8 v4 h-3.8 v3.8 h-4 v-3.8 h-3.8 v-4 h3.8 z" fill="#2fd82f" stroke="#0d8a0d" stroke-width=".9" stroke-linejoin="round"/><path d="M480,11.3 h2.2 v3.7 h3.8 v.9 h-9.6 v-.9 h3.6 z" fill="#8af08a" opacity=".8"/>
<polygon points="492.7,11 498.5,11 495.6,14.1" fill="#000"/>
<circle cx="517" cy="12" r="8" fill="url(#gClock)"/><circle cx="517" cy="12" r="5.1" fill="#f2f4f8"/><circle cx="517" cy="12" r="4.4" fill="none" stroke="#aab8d0" stroke-width=".9" stroke-dasharray=".5 1.8"/><path d="M517,8.2 V12 L519.6,12.3" stroke="#2a2a2a" stroke-width="1.15" fill="none"/>
<polygon points="531.6,11 537.4,11 534.5,14.1" fill="#000"/>
<g shape-rendering="crispEdges"><rect x="548" y="5" width="16" height="14" fill="#2c6acc"/><rect x="549" y="5" width="14" height="2" fill="#7fb2f0"/><rect x="549" y="7" width="14" height="11" fill="#fbfdff"/><rect x="549" y="13" width="14" height="1" fill="#3c78d4"/></g>
<path d="M550.2,11.4 l1.8,0 l1.6,-1.5 l1.6,0.2 l1.5,1 l1.9,-0.2 l1.6,-1.3 l1.6,-0.2" stroke="#a82008" stroke-width="1.1" fill="none"/>
<path d="M550.8,16.4 l1.7,-0.2 l1.5,-0.9 l1.6,0.9 l1.7,-0.4 l1.7,-1.5 l1.5,1.2 l1,1" stroke="#1a8a1a" stroke-width="1.1" fill="none"/>
<polygon points="570.6,11 576.4,11 573.5,14.1" fill="#000"/>
<rect x="582" y="0" width="1" height="24" fill="#9c9c9c" shape-rendering="crispEdges"/>
<rect x="586" y="2" width="3" height="1" fill="#a9a9a9" shape-rendering="crispEdges"/>
<rect x="586" y="4" width="3" height="1" fill="#a9a9a9" shape-rendering="crispEdges"/>
<rect x="586" y="6" width="3" height="1" fill="#a9a9a9" shape-rendering="crispEdges"/>
<rect x="586" y="8" width="3" height="1" fill="#a9a9a9" shape-rendering="crispEdges"/>
<rect x="586" y="10" width="3" height="1" fill="#a9a9a9" shape-rendering="crispEdges"/>
<rect x="586" y="12" width="3" height="1" fill="#a9a9a9" shape-rendering="crispEdges"/>
<rect x="586" y="14" width="3" height="1" fill="#a9a9a9" shape-rendering="crispEdges"/>
<rect x="586" y="16" width="3" height="1" fill="#a9a9a9" shape-rendering="crispEdges"/>
<rect x="586" y="18" width="3" height="1" fill="#a9a9a9" shape-rendering="crispEdges"/>
<rect x="586" y="20" width="3" height="1" fill="#a9a9a9" shape-rendering="crispEdges"/>
<g shape-rendering="crispEdges"><rect x="592" y="0" width="25" height="22" fill="#f6f6f6"/><rect x="592" y="0" width="25" height="1" fill="#a0a0a0"/><rect x="592" y="0" width="1" height="22" fill="#8e8e8e"/><rect x="617" y="1" width="1" height="22" fill="#fff"/><rect x="592" y="22" width="26" height="1" fill="#fff"/></g>
<path d="M600,4.8 V16.2 L602.6,13.8 L605.6,19.3 L607.1,18.4 L604.3,13 L608.1,12.7 Z" fill="#454545"/>
<path d="M632.4,5.1 V11 M632.4,14 V19.9 M624.9,12.5 H631 M633.9,12.5 H640.1" stroke="#454545" stroke-width="1.25" fill="none"/>
<rect x="632" y="12.1" width=".9" height=".9" fill="#454545"/>
<rect x="649" y="1" width="1" height="21" fill="#a2a2a2" shape-rendering="crispEdges"/>
<path d="M666.4,6.2 V18.8" stroke="#454545" stroke-width="1.25"/>
<path d="M688.9,12.5 H701" stroke="#454545" stroke-width="1.25"/>
<path d="M716.9,18.8 L729.2,6.5" stroke="#585858" stroke-width="1.05"/>
<path d="M742.6,13.7 L751.5,5.8 M743.9,18.2 L756.6,6.8 M748,18.8 L757.3,10.6" stroke="#4a4a4a" stroke-width=".85" fill="none"/>
<path d="M745.6,11 V17.5 M748.7,8.6 V15.5 M751.8,6.5 V13.5 M754.9,4.2 V11.2" stroke="#4a4a4a" stroke-width=".9" fill="none"/>
<text x="753.8" y="20.5" style="font-size:6.9px;font-weight:bold;stroke:none;fill:#1a1a1a">E</text>
<rect x="772" y="5" width="1" height="1" fill="#4a4a4a" shape-rendering="crispEdges"/>
<rect x="774" y="5" width="1" height="1" fill="#4a4a4a" shape-rendering="crispEdges"/>
<rect x="776" y="5" width="1" height="1" fill="#4a4a4a" shape-rendering="crispEdges"/>
<rect x="778" y="5" width="1" height="1" fill="#4a4a4a" shape-rendering="crispEdges"/>
<rect x="780" y="5" width="1" height="1" fill="#4a4a4a" shape-rendering="crispEdges"/>
<rect x="782" y="5" width="1" height="1" fill="#4a4a4a" shape-rendering="crispEdges"/>
<rect x="784" y="5" width="1" height="1" fill="#4a4a4a" shape-rendering="crispEdges"/>
<rect x="772" y="8" width="1" height="1" fill="#4a4a4a" shape-rendering="crispEdges"/>
<rect x="774" y="8" width="1" height="1" fill="#4a4a4a" shape-rendering="crispEdges"/>
<rect x="776" y="8" width="1" height="1" fill="#4a4a4a" shape-rendering="crispEdges"/>
<rect x="778" y="8" width="1" height="1" fill="#4a4a4a" shape-rendering="crispEdges"/>
<rect x="780" y="8" width="1" height="1" fill="#4a4a4a" shape-rendering="crispEdges"/>
<rect x="782" y="8" width="1" height="1" fill="#4a4a4a" shape-rendering="crispEdges"/>
<rect x="784" y="8" width="1" height="1" fill="#4a4a4a" shape-rendering="crispEdges"/>
<rect x="772" y="12" width="1" height="1" fill="#4a4a4a" shape-rendering="crispEdges"/>
<rect x="774" y="12" width="1" height="1" fill="#4a4a4a" shape-rendering="crispEdges"/>
<rect x="776" y="12" width="1" height="1" fill="#4a4a4a" shape-rendering="crispEdges"/>
<rect x="778" y="12" width="1" height="1" fill="#4a4a4a" shape-rendering="crispEdges"/>
<rect x="780" y="12" width="1" height="1" fill="#4a4a4a" shape-rendering="crispEdges"/>
<rect x="782" y="12" width="1" height="1" fill="#4a4a4a" shape-rendering="crispEdges"/>
<rect x="784" y="12" width="1" height="1" fill="#4a4a4a" shape-rendering="crispEdges"/>
<rect x="772" y="16" width="1" height="1" fill="#4a4a4a" shape-rendering="crispEdges"/>
<rect x="774" y="16" width="1" height="1" fill="#4a4a4a" shape-rendering="crispEdges"/>
<rect x="776" y="16" width="1" height="1" fill="#4a4a4a" shape-rendering="crispEdges"/>
<rect x="778" y="16" width="1" height="1" fill="#4a4a4a" shape-rendering="crispEdges"/>
<rect x="780" y="16" width="1" height="1" fill="#4a4a4a" shape-rendering="crispEdges"/>
<text x="782" y="20.5" style="font-size:6.9px;font-weight:bold;stroke:none;fill:#1a1a1a">F</text>
<text x="802.4" y="16.8" style="font-size:12.3px;stroke:#4a4a4a;stroke-width:.25px;fill:#4a4a4a">A</text>
<rect x="829.5" y="6.5" width="11" height="12" fill="none" stroke="#555" stroke-width="1" stroke-dasharray="1 1" shape-rendering="crispEdges"/>
<rect x="828.6" y="5.4" width="1.8" height="1.2" fill="#555"/>
<text transform="translate(831,16.8) scale(1.3,1)" style="font-size:10.6px;stroke:#555;stroke-width:.35px;fill:#555">T</text>
<path d="M859.5,6 L862.9,9.6 H861.2 V10.8 H857.8 V9.6 H856.2 Z M866.5,18.6 L863.2,15.2 H864.9 V14 H868.3 V15.2 H870 Z" fill="#4c4c4c"/>
<path d="M858.1,13.9 L860.5,15.7 L864.6,10.3" stroke="#4c4c4c" stroke-width="1.15" fill="none"/>
<polygon points="876.6,11 882.4,11 879.5,14.1" fill="#000"/>
<rect x="888" y="0" width="1" height="24" fill="#9c9c9c" shape-rendering="crispEdges"/>
<rect x="892" y="2" width="3" height="1" fill="#a9a9a9" shape-rendering="crispEdges"/>
<rect x="892" y="4" width="3" height="1" fill="#a9a9a9" shape-rendering="crispEdges"/>
<rect x="892" y="6" width="3" height="1" fill="#a9a9a9" shape-rendering="crispEdges"/>
<rect x="892" y="8" width="3" height="1" fill="#a9a9a9" shape-rendering="crispEdges"/>
<rect x="892" y="10" width="3" height="1" fill="#a9a9a9" shape-rendering="crispEdges"/>
<rect x="892" y="12" width="3" height="1" fill="#a9a9a9" shape-rendering="crispEdges"/>
<rect x="892" y="14" width="3" height="1" fill="#a9a9a9" shape-rendering="crispEdges"/>
<rect x="892" y="16" width="3" height="1" fill="#a9a9a9" shape-rendering="crispEdges"/>
<rect x="892" y="18" width="3" height="1" fill="#a9a9a9" shape-rendering="crispEdges"/>
<rect x="892" y="20" width="3" height="1" fill="#a9a9a9" shape-rendering="crispEdges"/>
<g shape-rendering="crispEdges"><rect x="1038" y="0" width="25" height="22" fill="#f6f6f6"/><rect x="1038" y="0" width="25" height="1" fill="#a0a0a0"/><rect x="1038" y="0" width="1" height="22" fill="#8e8e8e"/><rect x="1063" y="1" width="1" height="22" fill="#fff"/><rect x="1038" y="22" width="26" height="1" fill="#fff"/></g>
<text transform="translate(910,15.6) scale(0.96,1)" class="tf" text-anchor="middle">M1</text>
<text transform="translate(938,15.6) scale(0.96,1)" class="tf" text-anchor="middle">M5</text>
<text transform="translate(966.5,15.6) scale(0.96,1)" class="tf" text-anchor="middle">M15</text>
<text transform="translate(994,15.6) scale(0.96,1)" class="tf" text-anchor="middle">M30</text>
<text transform="translate(1022,15.6) scale(0.96,1)" class="tf" text-anchor="middle">H1</text>
<text transform="translate(1050,15.6) scale(0.96,1)" class="tf" text-anchor="middle">H4</text>
<text transform="translate(1078.5,15.6) scale(0.96,1)" class="tf" text-anchor="middle">D1</text>
<text transform="translate(1107,15.6) scale(0.96,1)" class="tf" text-anchor="middle">W1</text>
<text transform="translate(1134,15.6) scale(0.96,1)" class="tf" text-anchor="middle">MN</text>
<rect x="1149" y="0" width="1" height="24" fill="#9c9c9c" shape-rendering="crispEdges"/>
<line x1="1612.4" y1="16.6" x2="1616.6" y2="12.4" stroke="#2a5cc6" stroke-width="2.3" stroke-linecap="round"/><path d="M1612.6,15.4 l1.5,1.5 M1613.9,14.1 l1.5,1.5" stroke="#8cb0ee" stroke-width=".5"/><circle cx="1619.6" cy="9.3" r="3.9" fill="#f6f8fd" stroke="#2a62d0" stroke-width="1.35"/>
<ellipse cx="1644.5" cy="20.6" rx="6" ry="1" fill="#c8c8c8" opacity=".55"/><path d="M1640.6,17.6 L1639.6,20.6 L1642.6,18.4 Z" fill="#d0d0da" stroke="#9a9aa4" stroke-width=".5"/><ellipse cx="1643.6" cy="14" rx="7.2" ry="4.6" fill="#dadae4" stroke="#a8a8b0" stroke-width=".8"/><ellipse cx="1643.6" cy="12.6" rx="5.6" ry="2.6" fill="#ececf2"/><circle cx="1650.6" cy="9.5" r="8.2" fill="url(#gRed)"/><text x="1650.4" y="14.2" text-anchor="middle" style="font-size:12.6px;fill:#fff;stroke:#fff;stroke-width:.3px">1</text>
</svg>
</body></html>
